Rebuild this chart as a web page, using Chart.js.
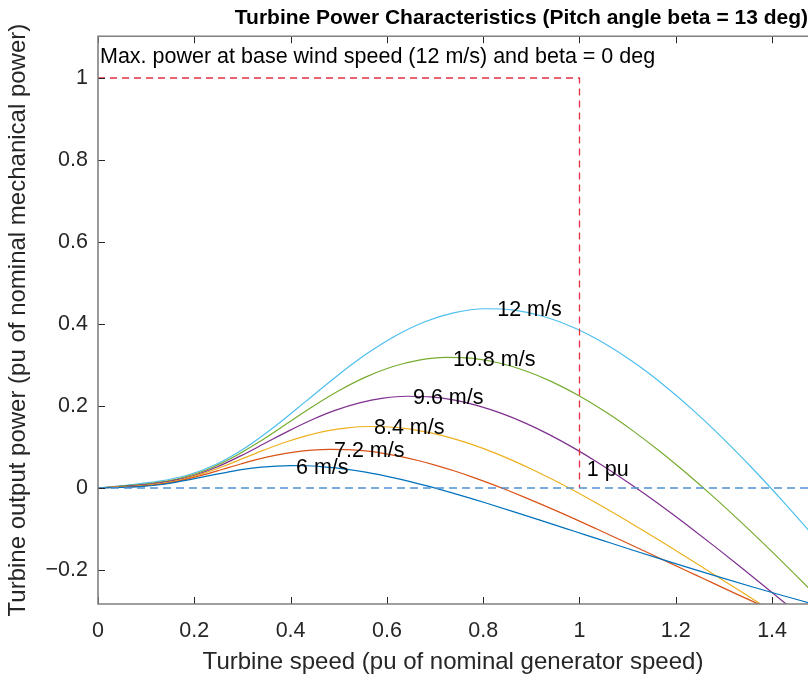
<!DOCTYPE html>
<html>
<head>
<meta charset="utf-8">
<script src="https://cdn.jsdelivr.net/npm/chart.js@4.4.1/dist/chart.umd.min.js"></script>
<style>
  html, body { margin: 0; padding: 0; background: #fff; }
  #wrap { width: 808px; height: 676px; }
</style>
</head>
<body>
<div id="wrap"><canvas id="chart" width="808" height="676"></canvas></div>
<script>
// turbine speed (pu) and output power (pu)
const omega6 = [0, 0.0309, 0.0617, 0.0926, 0.1235, 0.1543, 0.1852, 0.2160, 0.2469, 0.2778, 0.3086, 0.3395, 0.3704, 0.4012, 0.4321, 0.4630, 0.4938, 0.5556, 0.6173, 0.6790, 0.7407, 0.8025, 0.8642, 0.9259, 0.9877, 1.0494, 1.1111, 1.1728, 1.2346, 1.2963, 1.3580, 1.4198, 1.4815];
const power6 = [0, 0.0009, 0.0020, 0.0039, 0.0073, 0.0125, 0.0191, 0.0265, 0.0339, 0.0407, 0.0464, 0.0507, 0.0535, 0.0546, 0.0542, 0.0523, 0.0489, 0.0385, 0.0239, 0.0062, -0.0139, -0.0355, -0.0582, -0.0815, -0.1050, -0.1285, -0.1519, -0.1749, -0.1974, -0.2194, -0.2409, -0.2617, -0.2819];

const omega72 = [0, 0.0370, 0.0741, 0.1111, 0.1481, 0.1852, 0.2222, 0.2593, 0.2963, 0.3333, 0.3704, 0.4074, 0.4444, 0.4815, 0.5185, 0.5556, 0.5926, 0.6296, 0.6667, 0.7037, 0.7407, 0.7778, 0.8148, 0.8519, 0.8889, 0.9259, 0.9630, 1.0000, 1.0370, 1.0741, 1.1111, 1.1481, 1.1852, 1.2222, 1.2593, 1.2963, 1.3333, 1.3704, 1.4074];
const power72 = [0, 0.0016, 0.0034, 0.0067, 0.0126, 0.0216, 0.0330, 0.0458, 0.0585, 0.0703, 0.0801, 0.0876, 0.0924, 0.0944, 0.0937, 0.0903, 0.0846, 0.0765, 0.0665, 0.0547, 0.0413, 0.0265, 0.0106, -0.0063, -0.0240, -0.0424, -0.0614, -0.0808, -0.1006, -0.1206, -0.1408, -0.1611, -0.1815, -0.2018, -0.2221, -0.2424, -0.2625, -0.2824, -0.3022];

const omega84 = [0, 0.0432, 0.0864, 0.1296, 0.1728, 0.2160, 0.2593, 0.3025, 0.3457, 0.3889, 0.4321, 0.4753, 0.5185, 0.5617, 0.6049, 0.6481, 0.6914, 0.7346, 0.7778, 0.8210, 0.8642, 0.9074, 0.9506, 0.9938, 1.0370, 1.0802, 1.1235, 1.1667, 1.2099, 1.2531, 1.2963, 1.3395, 1.3827, 1.4259];
const power84 = [0, 0.0025, 0.0054, 0.0107, 0.0201, 0.0343, 0.0524, 0.0727, 0.0929, 0.1116, 0.1272, 0.1391, 0.1467, 0.1500, 0.1488, 0.1435, 0.1343, 0.1215, 0.1056, 0.0868, 0.0656, 0.0422, 0.0169, -0.0099, -0.0381, -0.0673, -0.0975, -0.1283, -0.1597, -0.1915, -0.2236, -0.2558, -0.2881, -0.3205];

const omega96 = [0, 0.0494, 0.0988, 0.1481, 0.1975, 0.2469, 0.2963, 0.3457, 0.3951, 0.4444, 0.4938, 0.5432, 0.5926, 0.6420, 0.6914, 0.7407, 0.7901, 0.8395, 0.8889, 0.9383, 0.9877, 1.0370, 1.0864, 1.1358, 1.1852, 1.2346, 1.2840, 1.3333, 1.3827, 1.4321, 1.4815];
const power96 = [0, 0.0037, 0.0081, 0.0159, 0.0299, 0.0512, 0.0783, 0.1084, 0.1387, 0.1665, 0.1899, 0.2077, 0.2190, 0.2238, 0.2221, 0.2141, 0.2004, 0.1814, 0.1576, 0.1296, 0.0978, 0.0629, 0.0252, -0.0148, -0.0568, -0.1005, -0.1455, -0.1915, -0.2384, -0.2858, -0.3337];

const omega108 = [0, 0.0556, 0.1111, 0.1667, 0.2222, 0.2778, 0.3333, 0.3889, 0.4444, 0.5000, 0.5556, 0.6111, 0.6667, 0.7222, 0.7778, 0.8333, 0.8889, 0.9444, 1.0000, 1.0556, 1.1111, 1.1667, 1.2222, 1.2778, 1.3333, 1.3889, 1.4444, 1.5000];
const power108 = [0, 0.0052, 0.0116, 0.0226, 0.0426, 0.0729, 0.1114, 0.1544, 0.1975, 0.2371, 0.2704, 0.2957, 0.3119, 0.3187, 0.3162, 0.3049, 0.2854, 0.2582, 0.2244, 0.1845, 0.1393, 0.0896, 0.0359, -0.0211, -0.0809, -0.1431, -0.2071, -0.2727];

const omega12 = [0, 0.0617, 0.1235, 0.1852, 0.2469, 0.3086, 0.3704, 0.4321, 0.4938, 0.5556, 0.6173, 0.6790, 0.7407, 0.8025, 0.8642, 0.9259, 0.9877, 1.0494, 1.1111, 1.1728, 1.2346, 1.2963, 1.3580, 1.4198, 1.4815, 1.5432];
const power12 = [0, 0.0072, 0.0159, 0.0311, 0.0585, 0.1000, 0.1529, 0.2118, 0.2709, 0.3253, 0.3709, 0.4056, 0.4278, 0.4372, 0.4338, 0.4182, 0.3914, 0.3542, 0.3078, 0.2531, 0.1911, 0.1229, 0.0493, -0.0290, -0.1110, -0.1963];

// reference lines
const maxPowerX = [0, 1, 1];
const maxPowerY = [1, 1, 0];
const zeroX = [0, 1.5];
const zeroY = [0, 0];

// ticks
const xTicks = [0, 0.2, 0.4, 0.6, 0.8, 1, 1.2, 1.4];
const yTicks = [-0.2, 0, 0.2, 0.4, 0.6, 0.8, 1];

// text annotations (data coordinates)
const labelText = ['12 m/s', '10.8 m/s', '9.6 m/s', '8.4 m/s', '7.2 m/s', '6 m/s', '1 pu', 'Max. power at base wind speed (12 m/s) and beta = 0 deg'];
const labelX = [0.825, 0.733, 0.650, 0.569, 0.486, 0.407, 1.011, 0];
const labelY = [0.435, 0.313, 0.2195, 0.146, 0.090, 0.049, 0.044, 1.051];

const FONT = "'Liberation Sans', Arial, Helvetica, sans-serif";

function pts(xs, ys) {
  return xs.map((x, i) => ({ x: x, y: ys[i] }));
}

// MATLAB style tick text: real minus sign
function tickText(v) {
  return v < 0 ? '\u2212' + String(-v) : String(v);
}

function curve(label, xs, ys, color) {
  return {
    label: label,
    data: pts(xs, ys),
    borderColor: color,
    borderWidth: 1.2,
    pointRadius: 0,
    showLine: true,
    fill: false,
    cubicInterpolationMode: 'monotone',
    order: 2
  };
}

// draws axes box (left, top, bottom), inward ticks and the text labels
const boxPlugin = {
  id: 'box',
  afterDatasetsDraw(chart) {
    const { ctx, chartArea: a, scales } = chart;
    ctx.save();
    ctx.strokeStyle = '#262626';
    ctx.lineWidth = 1;
    const tl = 7;
    xTicks.forEach(v => {
      const px = Math.round(scales.x.getPixelForValue(v)) + 0.5;
      ctx.beginPath();
      ctx.moveTo(px, a.bottom); ctx.lineTo(px, a.bottom - tl);
      ctx.moveTo(px, a.top); ctx.lineTo(px, a.top + tl);
      ctx.stroke();
    });
    yTicks.forEach(v => {
      const py = Math.round(scales.y.getPixelForValue(v)) + 0.5;
      ctx.beginPath();
      ctx.moveTo(a.left, py); ctx.lineTo(a.left + tl, py);
      ctx.stroke();
    });
    ctx.strokeStyle = '#808080';
    ctx.lineWidth = 1.6;
    ctx.beginPath();
    ctx.moveTo(a.right, a.top);
    ctx.lineTo(a.left, a.top);
    ctx.lineTo(a.left, a.bottom);
    ctx.lineTo(a.right, a.bottom);
    ctx.stroke();
    ctx.restore();
  },
  afterDraw(chart) {
    const { ctx, scales } = chart;
    ctx.save();
    ctx.fillStyle = '#000';
    ctx.font = '21.5px ' + FONT;
    ctx.textAlign = 'left';
    ctx.textBaseline = 'middle';
    labelText.forEach((t, i) => {
      const px = scales.x.getPixelForValue(labelX[i]) + 2;
      const py = scales.y.getPixelForValue(labelY[i]);
      ctx.fillText(t, px, py);
    });
    ctx.restore();
  }
};

new Chart(document.getElementById('chart'), {
  type: 'scatter',
  data: {
    datasets: [
      {
        label: 'zero',
        data: pts(zeroX, zeroY),
        borderColor: '#4f93d3',
        borderWidth: 1.6,
        borderDash: [8, 5],
        pointRadius: 0,
        showLine: true,
        order: 0
      },
      {
        label: 'max power',
        data: pts(maxPowerX, maxPowerY),
        borderColor: '#e3303f',
        borderWidth: 1.3,
        borderDash: [7, 5],
        pointRadius: 0,
        showLine: true,
        order: 1
      },
      curve('6 m/s', omega6, power6, '#0072BD'),
      curve('7.2 m/s', omega72, power72, '#D95319'),
      curve('8.4 m/s', omega84, power84, '#EDB120'),
      curve('9.6 m/s', omega96, power96, '#7E2F8E'),
      curve('10.8 m/s', omega108, power108, '#77AC30'),
      curve('12 m/s', omega12, power12, '#4DBEEE')
    ]
  },
  options: {
    responsive: false,
    animation: false,
    layout: { padding: 0 },
    plugins: {
      legend: { display: false },
      tooltip: { enabled: false },
      title: {
        display: true,
        text: 'Turbine Power Characteristics (Pitch angle beta = 13 deg)',
        align: 'end',
        color: '#000',
        font: { family: FONT, size: 21, weight: 'bold', lineHeight: 1.2 },
        padding: { top: 6, bottom: 5 }
      }
    },
    scales: {
      x: {
        type: 'linear',
        min: 0,
        max: 1.4746,
        afterBuildTicks: s => { s.ticks = xTicks.map(v => ({ value: v })); },
        afterFit: s => { s.height = 72; },
        grid: { display: false, drawTicks: false },
        border: { display: false },
        ticks: {
          color: '#262626',
          padding: 14,
          maxRotation: 0,
          font: { family: FONT, size: 21.5 },
          callback: v => tickText(v)
        },
        title: {
          display: true,
          text: 'Turbine speed (pu of nominal generator speed)',
          color: '#262626',
          font: { family: FONT, size: 24, lineHeight: 1.1 },
          padding: { top: 0, bottom: 0 }
        }
      },
      y: {
        type: 'linear',
        min: -0.283,
        max: 1.102,
        afterBuildTicks: s => { s.ticks = yTicks.map(v => ({ value: v })); },
        afterFit: s => { s.width = 98; },
        grid: { display: false, drawTicks: false },
        border: { display: false },
        ticks: {
          color: '#262626',
          padding: 10,
          font: { family: FONT, size: 21.5 },
          callback: v => tickText(v)
        },
        title: {
          display: true,
          text: 'Turbine output power (pu of nominal mechanical power)',
          color: '#262626',
          font: { family: FONT, size: 24, lineHeight: 1.1 },
          padding: { top: 5, bottom: 0 }
        }
      }
    }
  },
  plugins: [boxPlugin]
});
</script>
</body>
</html>
